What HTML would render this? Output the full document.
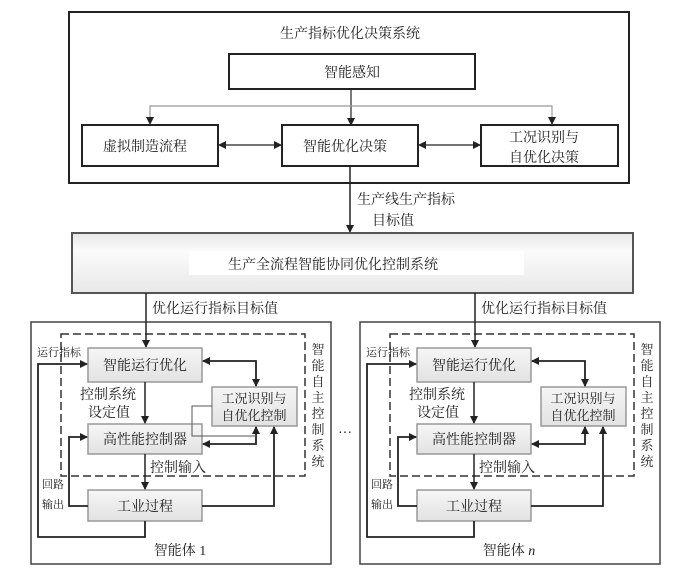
<!DOCTYPE html>
<html><head><meta charset="utf-8"><style>
html,body{margin:0;padding:0;background:#fff;}
svg{display:block;}
text{font-family:"Liberation Serif","Noto Serif CJK SC","Noto Sans CJK SC",serif;fill:#222;}
</style></head><body>
<svg width="686" height="575" viewBox="0 0 686 575" xmlns="http://www.w3.org/2000/svg">
<defs>
<marker id="a" markerWidth="8" markerHeight="8" refX="7" refY="4" orient="auto" markerUnits="userSpaceOnUse"><path d="M0,0 L8,4 L0,8 Z" fill="#222"/></marker>
<marker id="b" markerWidth="8" markerHeight="8" refX="1" refY="4" orient="auto" markerUnits="userSpaceOnUse"><path d="M8,0 L0,4 L8,8 Z" fill="#222"/></marker>
<linearGradient id="g" x1="0" y1="0" x2="0" y2="1"><stop offset="0" stop-color="#f6f6f6"/><stop offset="1" stop-color="#e2e2e2"/></linearGradient>
<linearGradient id="g2" x1="0" y1="0" x2="0" y2="1"><stop offset="0" stop-color="#e6e6e6"/><stop offset="0.3" stop-color="#fbfbfb"/><stop offset="1" stop-color="#e8e8e8"/></linearGradient>
</defs>

<!-- top system -->
<rect x="69" y="12" width="560" height="171" fill="none" stroke="#222" stroke-width="2"/>
<text x="350" y="38" font-size="14" text-anchor="middle">生产指标优化决策系统</text>
<rect x="229" y="54" width="246" height="35" fill="#fff" stroke="#222" stroke-width="2"/>
<text x="352" y="77" font-size="14" text-anchor="middle">智能感知</text>
<line x1="351" y1="89" x2="351" y2="125" stroke="#222" stroke-width="1.2" marker-end="url(#a)"/>
<polyline points="150,125 150,106 552,106 552,125" fill="none" stroke="#999" stroke-width="1.2"/>
<path d="M146,117 L150,125 L154,117 Z" fill="#222"/>
<path d="M548,117 L552,125 L556,117 Z" fill="#222"/>
<rect x="82" y="125" width="136" height="41" fill="#fff" stroke="#222" stroke-width="2"/>
<text x="145" y="151" font-size="14" text-anchor="middle">虚拟制造流程</text>
<rect x="282" y="125" width="136" height="41" fill="#fff" stroke="#222" stroke-width="2"/>
<text x="345" y="151" font-size="14" text-anchor="middle">智能优化决策</text>
<rect x="481" y="125" width="137" height="41" fill="#fff" stroke="#222" stroke-width="2"/>
<text x="544" y="142" font-size="14" text-anchor="middle">工况识别与</text>
<text x="544" y="162" font-size="14" text-anchor="middle">自优化决策</text>
<line x1="219" y1="145" x2="281" y2="145" stroke="#222" stroke-width="1.2" marker-start="url(#b)" marker-end="url(#a)"/>
<line x1="419" y1="145" x2="480" y2="145" stroke="#222" stroke-width="1.2" marker-start="url(#b)" marker-end="url(#a)"/>
<line x1="350" y1="166" x2="350" y2="232" stroke="#222" stroke-width="1.5" marker-end="url(#a)"/>
<text x="357" y="204" font-size="14">生产线生产指标</text>
<text x="372" y="225" font-size="14">目标值</text>

<!-- big system -->
<rect x="72" y="233" width="561" height="60" fill="url(#g2)" stroke="#555" stroke-width="2"/>
<rect x="189" y="251" width="335" height="24" fill="#fff"/>
<text x="333" y="269" font-size="14" text-anchor="middle">生产全流程智能协同优化控制系统</text>

<text x="338" y="437" font-size="14">···</text>

<!-- agent 1 -->
<g id="ag">
<rect x="31" y="322" width="300" height="242" fill="none" stroke="#444" stroke-width="1.5"/>
<rect x="61" y="334" width="244" height="142" fill="none" stroke="#333" stroke-width="1.5" stroke-dasharray="8,4"/>
<line x1="146" y1="293" x2="146" y2="347" stroke="#222" stroke-width="1.5" marker-end="url(#a)"/>
<text x="152" y="313" font-size="14">优化运行指标目标值</text>
<rect x="88" y="348" width="114" height="34" fill="url(#g)" stroke="#999" stroke-width="1.5"/>
<text x="145" y="370" font-size="14" text-anchor="middle">智能运行优化</text>
<rect x="212" y="387" width="85" height="39" fill="url(#g)" stroke="#999" stroke-width="1.5"/>
<text x="254" y="403" font-size="13" text-anchor="middle">工况识别与</text>
<text x="254" y="420" font-size="13" text-anchor="middle">自优化控制</text>
<rect x="88" y="424" width="114" height="30" fill="url(#g)" stroke="#999" stroke-width="1.5"/>
<text x="145" y="444" font-size="14" text-anchor="middle">高性能控制器</text>
<rect x="88" y="490" width="114" height="31" fill="url(#g)" stroke="#999" stroke-width="1.5"/>
<text x="145" y="511" font-size="14" text-anchor="middle">工业过程</text>
<text x="37" y="356" font-size="11">运行指标</text>
<text x="80" y="399" font-size="14">控制系统</text>
<text x="88" y="417" font-size="14">设定值</text>
<text x="150" y="472" font-size="14">控制输入</text>
<text x="42" y="488" font-size="11">回路</text>
<text x="42" y="508" font-size="11">输出</text>
<text x="318" y="354" font-size="13" text-anchor="middle">智</text>
<text x="318" y="370" font-size="13" text-anchor="middle">能</text>
<text x="318" y="386" font-size="13" text-anchor="middle">自</text>
<text x="318" y="402" font-size="13" text-anchor="middle">主</text>
<text x="318" y="418" font-size="13" text-anchor="middle">控</text>
<text x="318" y="434" font-size="13" text-anchor="middle">制</text>
<text x="318" y="450" font-size="13" text-anchor="middle">系</text>
<text x="318" y="466" font-size="13" text-anchor="middle">统</text>
<line x1="145" y1="382" x2="145" y2="423" stroke="#222" stroke-width="1.5" marker-end="url(#a)"/>
<line x1="145" y1="454" x2="145" y2="489" stroke="#222" stroke-width="1.5" marker-end="url(#a)"/>
<polyline points="203,361 256,361 256,386" fill="none" stroke="#222" stroke-width="1.8" marker-start="url(#b)" marker-end="url(#a)"/>
<polyline points="203,444 256,444 256,427" fill="none" stroke="#222" stroke-width="1.8" marker-start="url(#b)" marker-end="url(#a)"/>
<polyline points="202,506 274,506 274,427" fill="none" stroke="#222" stroke-width="1.8" marker-end="url(#a)"/>
<polyline points="88,506 69,506 69,437 87,437" fill="none" stroke="#222" stroke-width="1.8" marker-end="url(#a)"/>
<polyline points="145,521 145,537 38,537 38,364 87,364" fill="none" stroke="#222" stroke-width="1.8" marker-end="url(#a)"/>
<text x="180" y="555" font-size="14" text-anchor="middle">智能体 1</text>
</g>
<polyline points="212,406 192,406 192,436 256,436" fill="none" stroke="#555" stroke-width="1"/>

<!-- agent n -->
<g transform="translate(329,0)">
<rect x="31" y="322" width="300" height="242" fill="none" stroke="#444" stroke-width="1.5"/>
<rect x="61" y="334" width="244" height="142" fill="none" stroke="#333" stroke-width="1.5" stroke-dasharray="8,4"/>
<line x1="146" y1="293" x2="146" y2="347" stroke="#222" stroke-width="1.5" marker-end="url(#a)"/>
<text x="152" y="313" font-size="14">优化运行指标目标值</text>
<rect x="88" y="348" width="114" height="34" fill="url(#g)" stroke="#999" stroke-width="1.5"/>
<text x="145" y="370" font-size="14" text-anchor="middle">智能运行优化</text>
<rect x="212" y="387" width="85" height="39" fill="url(#g)" stroke="#999" stroke-width="1.5"/>
<text x="254" y="403" font-size="13" text-anchor="middle">工况识别与</text>
<text x="254" y="420" font-size="13" text-anchor="middle">自优化控制</text>
<rect x="88" y="424" width="114" height="30" fill="url(#g)" stroke="#999" stroke-width="1.5"/>
<text x="145" y="444" font-size="14" text-anchor="middle">高性能控制器</text>
<rect x="88" y="490" width="114" height="31" fill="url(#g)" stroke="#999" stroke-width="1.5"/>
<text x="145" y="511" font-size="14" text-anchor="middle">工业过程</text>
<text x="37" y="356" font-size="11">运行指标</text>
<text x="80" y="399" font-size="14">控制系统</text>
<text x="88" y="417" font-size="14">设定值</text>
<text x="150" y="472" font-size="14">控制输入</text>
<text x="42" y="488" font-size="11">回路</text>
<text x="42" y="508" font-size="11">输出</text>
<text x="318" y="354" font-size="13" text-anchor="middle">智</text>
<text x="318" y="370" font-size="13" text-anchor="middle">能</text>
<text x="318" y="386" font-size="13" text-anchor="middle">自</text>
<text x="318" y="402" font-size="13" text-anchor="middle">主</text>
<text x="318" y="418" font-size="13" text-anchor="middle">控</text>
<text x="318" y="434" font-size="13" text-anchor="middle">制</text>
<text x="318" y="450" font-size="13" text-anchor="middle">系</text>
<text x="318" y="466" font-size="13" text-anchor="middle">统</text>
<line x1="145" y1="382" x2="145" y2="423" stroke="#222" stroke-width="1.5" marker-end="url(#a)"/>
<line x1="145" y1="454" x2="145" y2="489" stroke="#222" stroke-width="1.5" marker-end="url(#a)"/>
<polyline points="203,361 256,361 256,386" fill="none" stroke="#222" stroke-width="1.8" marker-start="url(#b)" marker-end="url(#a)"/>
<polyline points="203,444 256,444 256,427" fill="none" stroke="#222" stroke-width="1.8" marker-start="url(#b)" marker-end="url(#a)"/>
<polyline points="202,506 274,506 274,427" fill="none" stroke="#222" stroke-width="1.8" marker-end="url(#a)"/>
<polyline points="88,506 69,506 69,437 87,437" fill="none" stroke="#222" stroke-width="1.8" marker-end="url(#a)"/>
<polyline points="145,521 145,537 38,537 38,364 87,364" fill="none" stroke="#222" stroke-width="1.8" marker-end="url(#a)"/>
<text x="180" y="555" font-size="14" text-anchor="middle">智能体 <tspan font-style="italic">n</tspan></text>
</g>
</svg>
</body></html>
